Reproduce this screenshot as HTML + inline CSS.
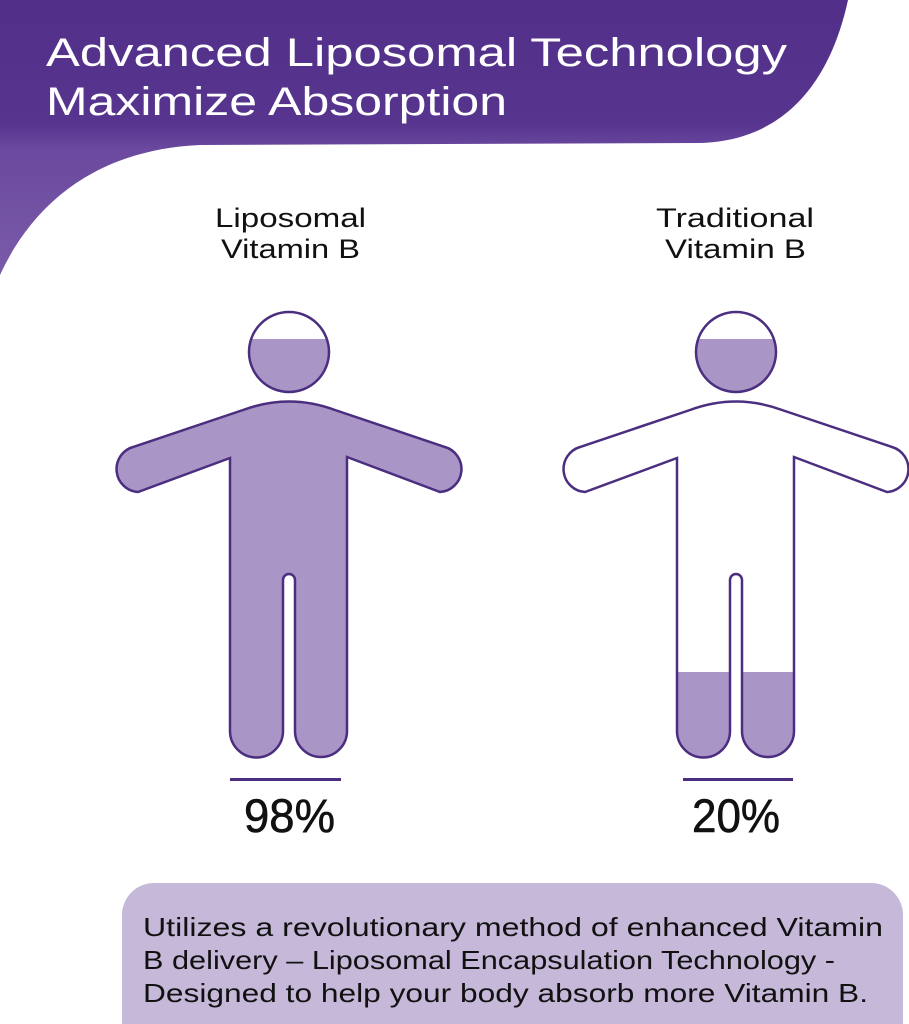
<!DOCTYPE html>
<html><head><meta charset="utf-8"><style>
html,body{margin:0;padding:0;background:#fff;}
svg{display:block;}
text{font-family:"Liberation Sans",sans-serif;}
</style></head><body>
<svg width="909" height="1024" viewBox="0 0 909 1024" xmlns="http://www.w3.org/2000/svg">
<defs>
<linearGradient id="hg" x1="0" y1="0" x2="0" y2="1">
<stop offset="0" stop-color="#52308a"/>
<stop offset="0.45" stop-color="#57358f"/>
<stop offset="0.55" stop-color="#6b4a9f"/>
<stop offset="1" stop-color="#7a5aa8"/>
</linearGradient>
<path id="body" d="M230,458 L138,492 A23,23 0 0 1 133,447 L243,410 Q289,393 335,410 L445,447 A23,23 0 0 1 440,492 L347,457 L347,731 A26,26 0 0 1 295,731 L295,580 A6,6 0 0 0 283,580 L283,731 A26.5,26.5 0 0 1 230,731 Z"/>
<clipPath id="headclip"><rect x="0" y="339" width="909" height="200"/></clipPath>
<clipPath id="legclip"><rect x="0" y="672" width="909" height="200"/></clipPath>
</defs>
<path d="M0,0 L848,0 C835,60 800,140 700,143 L200,145 C90,150 30,210 0,275 Z" fill="url(#hg)"/>
<text x="46" y="66" font-size="40" fill="#fff" textLength="741" lengthAdjust="spacingAndGlyphs">Advanced Liposomal Technology</text>
<text x="46" y="115" font-size="40" fill="#fff" textLength="461" lengthAdjust="spacingAndGlyphs">Maximize Absorption</text>

<text x="215" y="227" font-size="27" fill="#111" textLength="151" lengthAdjust="spacingAndGlyphs">Liposomal</text>
<text x="221" y="258" font-size="27" fill="#111" textLength="139" lengthAdjust="spacingAndGlyphs">Vitamin B</text>
<text x="656" y="227" font-size="27" fill="#111" textLength="158" lengthAdjust="spacingAndGlyphs">Traditional</text>
<text x="665" y="258" font-size="27" fill="#111" textLength="141" lengthAdjust="spacingAndGlyphs">Vitamin B</text>

<g>
<circle cx="289" cy="352" r="40" fill="#fff"/>
<circle cx="289" cy="352" r="40" fill="#a995c6" clip-path="url(#headclip)"/>
<circle cx="289" cy="352" r="40" fill="none" stroke="#4b2e7f" stroke-width="2.5"/>
<use href="#body" fill="#a995c6" stroke="#4b2e7f" stroke-width="2.5"/>
</g>
<g transform="translate(447,0)">
<circle cx="289" cy="352" r="40" fill="#fff"/>
<circle cx="289" cy="352" r="40" fill="#a995c6" clip-path="url(#headclip)"/>
<circle cx="289" cy="352" r="40" fill="none" stroke="#4b2e7f" stroke-width="2.5"/>
<use href="#body" fill="#fff"/>
<use href="#body" fill="#a995c6" clip-path="url(#legclip)"/>
<use href="#body" fill="none" stroke="#4b2e7f" stroke-width="2.5"/>
</g>

<rect x="230" y="778" width="111" height="3" fill="#4b2e7f"/>
<rect x="683" y="778" width="110" height="3" fill="#4b2e7f"/>
<text x="244" y="832" font-size="47" fill="#111" stroke="#111" stroke-width="0.6" textLength="91" lengthAdjust="spacingAndGlyphs">98%</text>
<text x="692" y="832" font-size="47" fill="#111" stroke="#111" stroke-width="0.6" textLength="88" lengthAdjust="spacingAndGlyphs">20%</text>

<rect x="122" y="883" width="781" height="180" rx="32" fill="#c5b8d9"/>
<text x="143" y="936" font-size="26" fill="#111" textLength="740" lengthAdjust="spacingAndGlyphs">Utilizes a revolutionary method of enhanced Vitamin</text>
<text x="143" y="969" font-size="26" fill="#111" textLength="692" lengthAdjust="spacingAndGlyphs">B delivery – Liposomal Encapsulation Technology -</text>
<text x="143" y="1002" font-size="26" fill="#111" textLength="725" lengthAdjust="spacingAndGlyphs">Designed to help your body absorb more Vitamin B.</text>
</svg>
</body></html>
